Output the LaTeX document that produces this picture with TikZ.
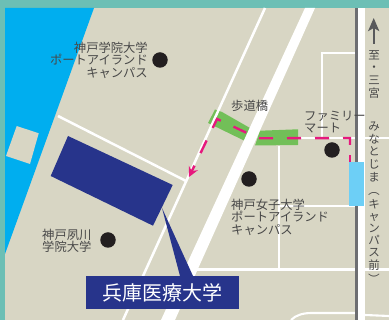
\documentclass[tikz,border=0pt]{standalone}
\usepackage{fontspec}
\usepackage{graphicx}
\usetikzlibrary{arrows.meta}
\setmainfont{Noto Sans CJK JP}
\definecolor{teal}{HTML}{6CBFB5}
\definecolor{land}{HTML}{D8D6C4}
\definecolor{water}{HTML}{00AEEF}
\definecolor{navy}{HTML}{27348B}
\definecolor{leaf}{HTML}{72BF58}
\definecolor{pink}{HTML}{E6197D}
\definecolor{sky}{HTML}{6DCFF6}
\definecolor{railgray}{HTML}{6D6E71}
\definecolor{arrowgray}{HTML}{58595B}
\definecolor{ink}{HTML}{484848}
\definecolor{dotk}{HTML}{231F20}
\newcommand{\vparen}[1]{\smash{\rotatebox[origin=c]{-90}{#1}}}
\tikzset{
  road/.style={draw=white,line width=#1},
  road/.default=2.1,
  campusdot/.style={circle,fill=dotk,minimum size=15.5pt,inner sep=0pt},
  maplabel/.style={text=ink,font=\fontsize{12.3}{12.5}\selectfont,inner sep=0pt},
  vertlabel/.style={text=ink,font=\fontsize{11.5}{12.4}\selectfont,inner sep=0pt,align=center},
}
\begin{document}
\begin{tikzpicture}[x=1pt,y=-1pt]
\useasboundingbox (0,0) rectangle (389,320);
\fill[teal] (0,0) rectangle (389,320);
\fill[land] (5,8) rectangle (389,320);
\fill[water] (5,8) -- (94,8) -- (5,254) -- cycle;
\fill[land] (16.7,126) -- (38.7,133.3) -- (30,164) -- (6,156) -- cycle;
\fill[leaf] (215,109.5) -- (222,112) -- (250,128) -- (245,141) -- (208,123) -- cycle;
\fill[leaf] (260,130.7) -- (298,129.3) -- (298,145) -- (255,145.5) -- cycle;
\draw[road=2.5] (58,116) -- (186,181);
\draw[road=2.5] (265,8) -- (123,320);
\fill[white] (305,8) -- (315,8) -- (175,320) -- (161,320) -- cycle;
\draw[road] (322,137) -- (322,53) -- (358,53);
\draw[road] (298,138) -- (389,138);
\draw[road] (279,146) -- (279,269);
\draw[road] (279,206) -- (356,206);
\draw[road] (195,269.5) -- (389,269.5);
\draw[road] (291,320) .. controls (296,315) and (303,313) .. (312,313) -- (356,313) (365,315) -- (389,316);
\fill[white] (358,8) rectangle (365,320);
\fill[railgray] (355.4,8) rectangle (358,320);
\draw[pink,line width=2.4,dash pattern=on 14pt off 14pt,-{Stealth[length=10pt,width=10pt,inset=3.5pt]}] (350,145) -- (350,138) -- (260,138.3) -- (247,133) -- (217,119) -- (189,177);
\draw[pink,line width=2.4] (350,162) -- (350,155);
\fill[navy] (68,136) -- (172.7,185) -- (153,225.7) -- (50.7,176) -- cycle;
\fill[navy] (162,208) -- (193,276) -- (180,276) -- cycle;
\node[fill=navy,text=white,minimum width=153pt,minimum height=33pt,inner sep=0pt,font=\fontsize{20}{20}\selectfont] (name) at (162.5,292.5) {兵庫医療大学};
\fill[sky] (349,162) rectangle (364,206);
\node[campusdot] (d1) at (160,60) {};
\node[campusdot] (d2) at (108,240) {};
\node[campusdot] (d3) at (249,179) {};
\node[campusdot] (d4) at (332,150) {};
\node[maplabel,anchor=north east,align=right] (t1) at (148,41.5) {神戸学院大学\\ポートアイランド\\キャンパス};
\node[maplabel,anchor=north west,align=left] (t2) at (42,228.5) {神戸夙川\\学院大学};
\node[maplabel,anchor=north west,align=left] (t3) at (231,198.5) {神戸女子大学\\ポートアイランド\\キャンパス};
\node[maplabel,anchor=north west] (t4) at (231,99.5) {歩道橋};
\node[maplabel,anchor=north west,align=left] (t5) at (304,110.5) {ファミリー\\マート};
\draw[-{Stealth[length=13pt,width=11pt,inset=3pt]},line width=2.4,arrowgray] (373.7,44) -- (373.7,18);
\node[vertlabel,anchor=north] (v1) at (374,50) {至\\[.3pt]・\\[.3pt]三\\[.3pt]宮};
\node[vertlabel,anchor=north] (v2) at (374,121.5) {み\\[.3pt]な\\[.3pt]と\\[.3pt]じ\\[.3pt]ま\\[1.4pt]\vparen{（}\\[1.4pt]キ\\[-.4pt]ャ\\[-.4pt]ン\\[-.4pt]パ\\[-.4pt]ス\\[.4pt]前\\[1.4pt]\vparen{）}};
\end{tikzpicture}
\end{document}
